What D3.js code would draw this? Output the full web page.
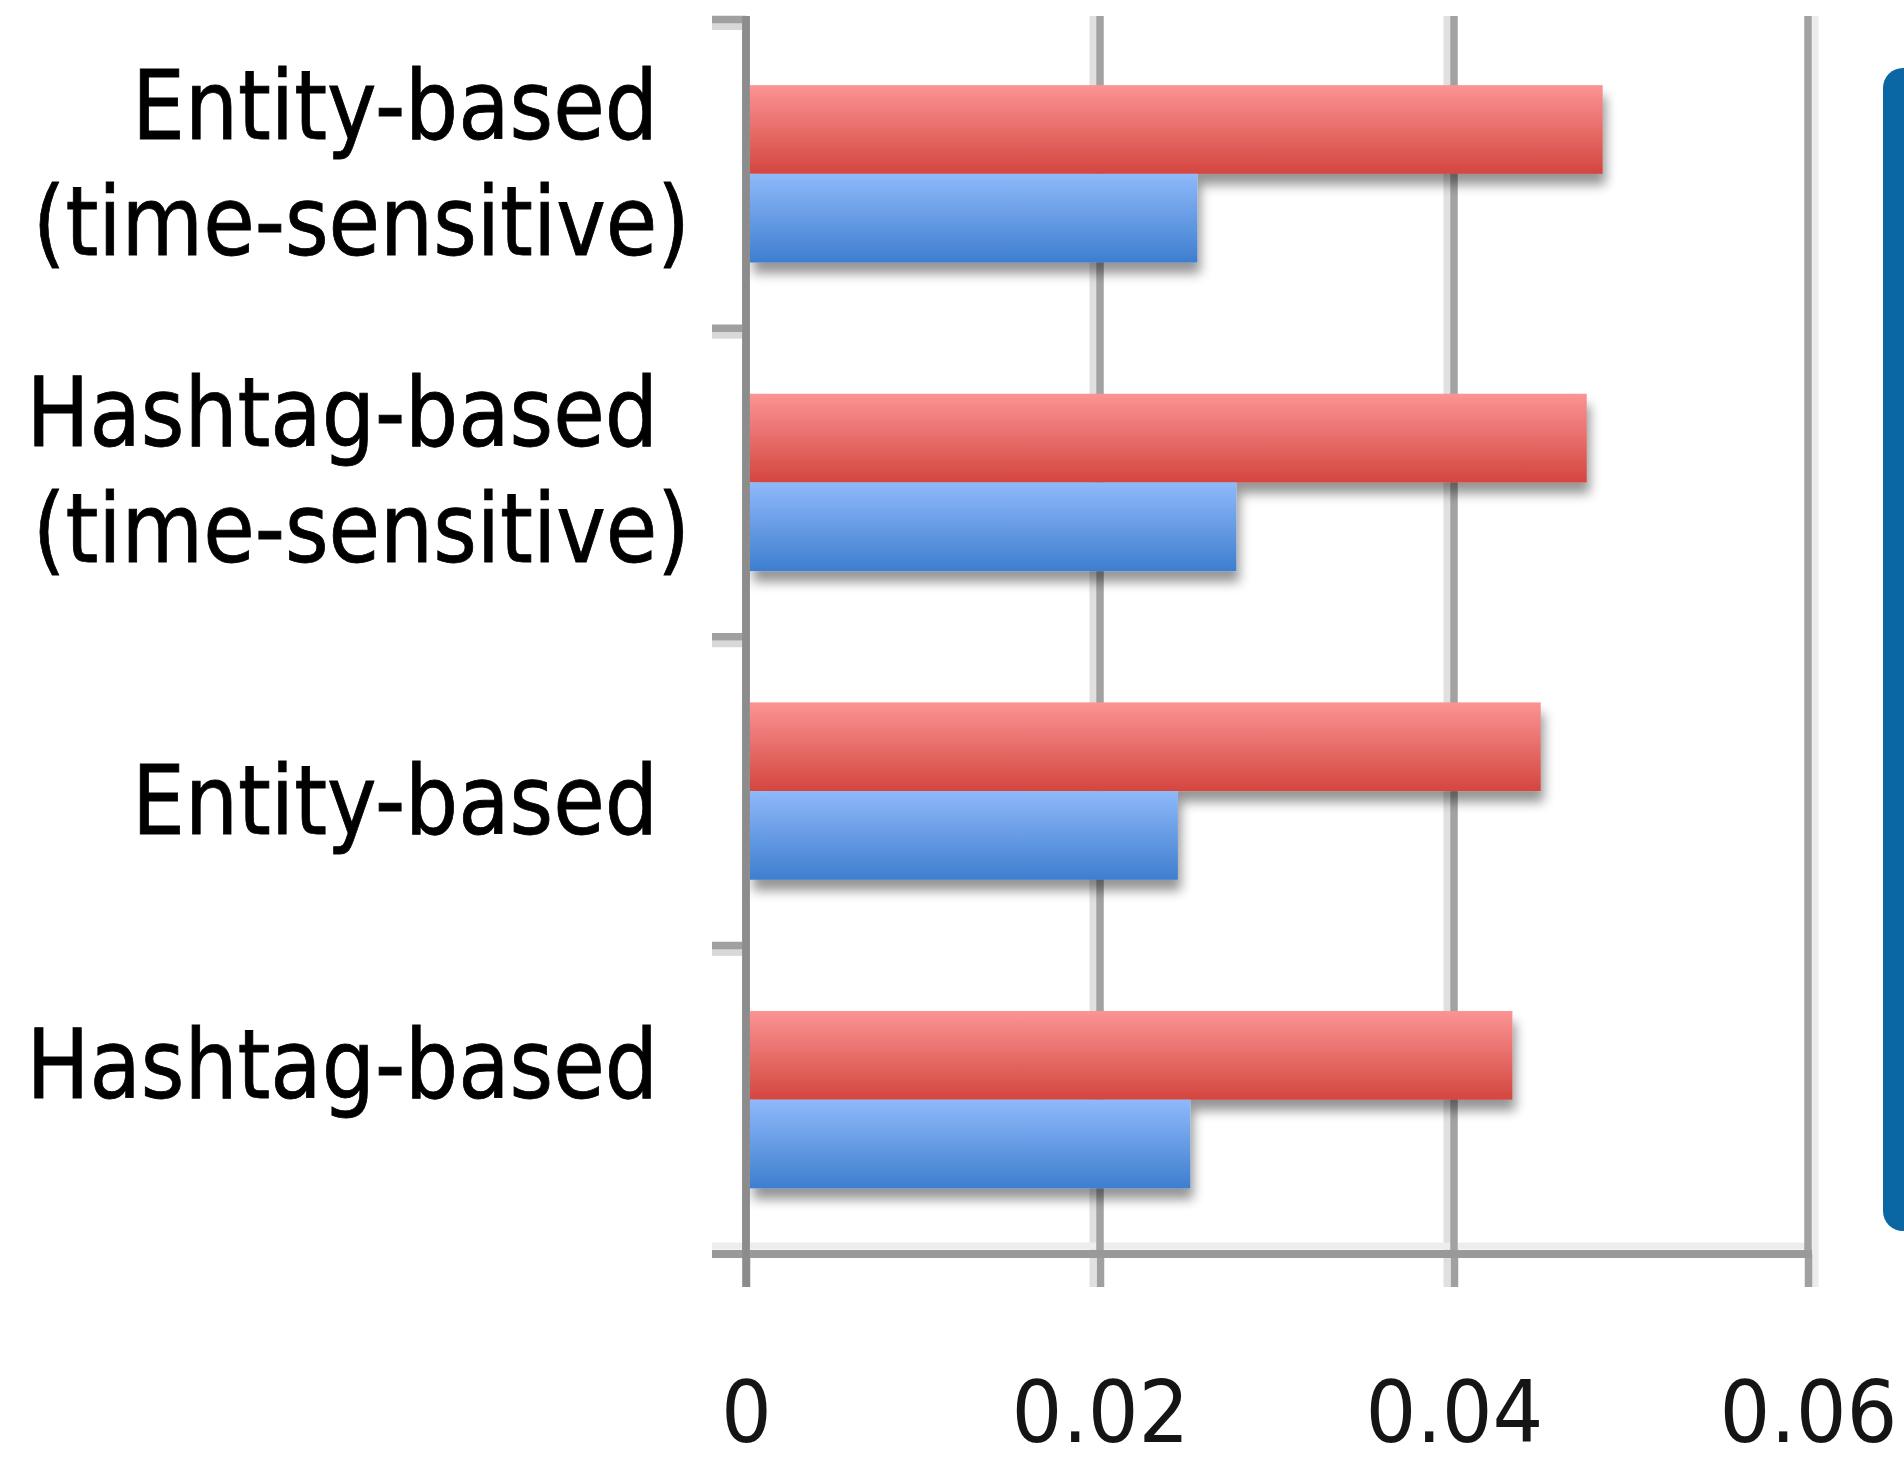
<!DOCTYPE html>
<html><head><meta charset="utf-8">
<script src="https://cdn.jsdelivr.net/npm/d3@7"></script>
<style>body{margin:0;background:#fff;overflow:hidden}</style>
</head><body><svg id="c" width="1904" height="1463"></svg>
<script>
// ---- data ----
const categories = ["Entity-based (time-sensitive)", "Hashtag-based (time-sensitive)", "Entity-based", "Hashtag-based"];
const seriesNames = ["Series 1", "Series 2"];
const series1Values = [0.0484, 0.0475, 0.0449, 0.0433];   // red
const series2Values = [0.0255, 0.0277, 0.0244, 0.0251];   // blue
const xTickValues = [0, 0.02, 0.04, 0.06];
const xTickLabels = ["0", "0.02", "0.04", "0.06"];

// ---- layout / style ----
const labelDy = [[-35, 81], [-36, 80], [43], [-2]];
const svg = d3.select("#c");
const defs = svg.append("defs");

const x = d3.scaleLinear().domain([0, 0.06]).range([746, 1808]);
const y0 = d3.scaleBand().domain(categories).range([19.5, 1254]).padding(0);
const y1 = d3.scaleBand().domain(seriesNames).range([0, y0.bandwidth()]).paddingInner(0).paddingOuter(0.74);

function grad(id, c1, c2) {
  const g = defs.append("linearGradient").attr("id", id).attr("x1", 0).attr("y1", 0).attr("x2", 0).attr("y2", 1);
  g.append("stop").attr("offset", "0%").attr("stop-color", c1);
  g.append("stop").attr("offset", "100%").attr("stop-color", c2);
}
grad("gRed", "#fb9494", "#d4463f");
grad("gBlue", "#8fb9fa", "#3e7ecf");
const colors = {"Series 1": "url(#gRed)", "Series 2": "url(#gBlue)"};

const f = defs.append("filter").attr("id", "sh").attr("x", "-5%").attr("y", "-30%").attr("width", "115%").attr("height", "190%");
f.append("feGaussianBlur").attr("in", "SourceAlpha").attr("stdDeviation", 6).attr("result", "b");
f.append("feOffset").attr("in", "b").attr("dx", 3).attr("dy", 11).attr("result", "o");
f.append("feComponentTransfer").attr("in", "o").attr("result", "oa")
  .append("feFuncA").attr("type", "linear").attr("slope", 0.42);
const fm = f.append("feMerge");
fm.append("feMergeNode").attr("in", "oa");
fm.append("feMergeNode").attr("in", "SourceGraphic");

const yTop = 16, yBot = 1287, axisY = 1254;

// gridlines (with light shadow line)
const grid = svg.append("g");
xTickValues.forEach((v, i) => {
  if (i > 0) {
    const off = i === xTickValues.length - 1 ? 7 : -7;
    grid.append("line").attr("x1", x(v) + off).attr("x2", x(v) + off).attr("y1", yTop).attr("y2", yBot)
      .attr("stroke", i === xTickValues.length - 1 ? "#ececec" : "#e0e0e0").attr("stroke-width", 7);
  }
});

// category boundary ticks
const bounds = categories.map(c => y0(c)).concat([y0.range()[1]]);
bounds.forEach((b, i) => {
  if (i < bounds.length - 1) {
    grid.append("line").attr("x1", 712).attr("x2", 742).attr("y1", b + 7).attr("y2", b + 7)
      .attr("stroke", "#d8d8d8").attr("stroke-width", 7);
  }
});
// bottom axis light line
grid.append("line").attr("x1", 712).attr("x2", x(0.06)).attr("y1", axisY - 8).attr("y2", axisY - 8)
  .attr("stroke", "#ededed").attr("stroke-width", 7);

xTickValues.forEach((v) => {
  grid.append("line").attr("x1", x(v)).attr("x2", x(v)).attr("y1", yTop).attr("y2", axisY)
    .attr("stroke", v === 0 ? "#8c8c8c" : "#a2a2a2").attr("stroke-width", 7.5);
});
bounds.forEach((b) => {
  grid.append("line").attr("x1", 712).attr("x2", 746).attr("y1", b).attr("y2", b)
    .attr("stroke", "#a0a0a0").attr("stroke-width", 7.5);
});

// bars
const rows = categories.map((c, i) => ({cat: c, vals: [series1Values[i], series2Values[i]]}));
const barG = svg.append("g").attr("filter", "url(#sh)");
rows.forEach(r => {
  seriesNames.forEach((s, j) => {
    barG.append("rect")
      .attr("x", x(0) + 4)
      .attr("y", y0(r.cat) + y1(s))
      .attr("width", x(r.vals[j]) - x(0) - 4)
      .attr("height", y1.bandwidth())
      .attr("fill", colors[s]);
  });
});

// x axis
const xAxis = d3.axisBottom(x).tickValues(xTickValues)
  .tickFormat((d, i) => xTickLabels[i]).tickSizeInner(33).tickSizeOuter(0);
const ax = svg.append("g").attr("transform", `translate(0,${axisY})`).call(xAxis);
ax.select(".domain").remove();
ax.append("line").attr("x1", 712).attr("x2", x(0.06) + 4).attr("y1", 0).attr("y2", 0)
  .attr("stroke", "#999").attr("stroke-width", 8);
ax.selectAll(".tick line").attr("stroke", v => v === 0 ? "#8c8c8c" : "#a0a0a0").attr("stroke-width", 7.5);
ax.selectAll(".tick text")
  .attr("y", 188).attr("dy", 0)
  .attr("font-family", "'DejaVu Sans Condensed', 'DejaVu Sans', sans-serif")
  .attr("font-size", 86).attr("fill", "#151515").attr("text-anchor", "middle");
// fit digits width
const refTick = ax.selectAll(".tick text").filter((d, i) => i === 1).node();
const kT = 178 / refTick.getComputedTextLength();
ax.selectAll(".tick text").attr("transform", `scale(${kT},1)`);

// vertical axis line (on top of shadow)
svg.append("line").attr("x1", x(0)).attr("x2", x(0)).attr("y1", yTop).attr("y2", yBot)
  .attr("stroke", "#8c8c8c").attr("stroke-width", 7.5);

// category labels
const labG = svg.append("g");
const labels = [];
categories.forEach((c, i) => {
  const lines = c.split(" (").map((t, k) => k > 0 ? "(" + t : t);
  const cy = y0(c) + y0.bandwidth() / 2;
  lines.forEach((ln, k) => {
    const right = ln.endsWith(")") ? 690 : 658;
    const t = labG.append("text")
      .attr("x", 0).attr("y", 0)
      .attr("text-anchor", "end")
      .attr("font-family", "'DejaVu Sans Condensed', 'DejaVu Sans', sans-serif")
      .attr("font-size", 97).attr("fill", "#000")
      .attr("stroke", "#000").attr("stroke-width", 0.8)
      .text(ln);
    labels.push({t, right, yy: cy + labelDy[i][k]});
  });
});
const kL = 526 / labels[0].t.node().getComputedTextLength();
labels.forEach(o => o.t.attr("transform", `translate(${o.right},${o.yy}) scale(${kL},1)`));

// legend box (cut at right edge)
svg.append("rect").attr("x", 1883).attr("y", 68).attr("width", 60).attr("height", 1231 - 68)
  .attr("rx", 20).attr("ry", 20).attr("fill", "#0b67a3");
</script>
</body></html>
